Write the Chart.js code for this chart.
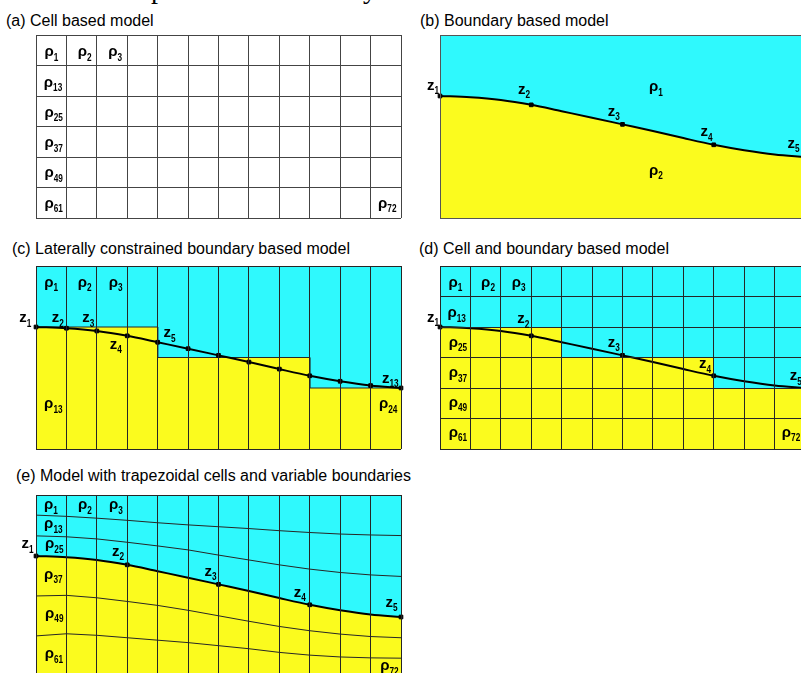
<!DOCTYPE html>
<html>
<head>
<meta charset="utf-8">
<script src="https://cdn.jsdelivr.net/npm/chart.js@4.4.1/dist/chart.umd.min.js"></script>
<style>
body { margin: 0; width: 801px; height: 673px; overflow: hidden; background: #fff; position: relative; font-family: "Liberation Sans", Arial, sans-serif; }
.t { position: absolute; font-size: 16px; line-height: 16px; white-space: nowrap; color: #000; }
.cap { position: absolute; font-family: "Liberation Serif", "Times New Roman", serif; font-size: 28px; line-height: 28px; color: #000; }
canvas { position: absolute; }
</style>
</head>
<body>
<div class="cap" style="left:151px;top:-25px">p</div>
<div class="cap" style="left:363px;top:-25px">y</div>

<div class="t" style="left:6px;top:13px">(a) Cell based model</div>
<div class="t" style="left:420px;top:13px">(b) Boundary based model</div>
<div class="t" style="left:12px;top:241px">(c) Laterally constrained boundary based model</div>
<div class="t" style="left:419px;top:241px">(d) Cell and boundary based model</div>
<div class="t" style="left:16px;top:468px">(e) Model with trapezoidal cells and variable boundaries</div>

<canvas id="pa" width="411" height="203" style="left:0;top:25px"></canvas>
<canvas id="pb" width="415" height="203" style="left:400px;top:25px"></canvas>
<canvas id="pc" width="411" height="203" style="left:0;top:256px"></canvas>
<canvas id="pd" width="415" height="203" style="left:400px;top:256px"></canvas>
<canvas id="pe" width="411" height="203" style="left:0;top:485px"></canvas>

<script>
// model grid: 12 columns x 6 rows, depth in row units (0 = top)
const nCols = 12;
const nRows = 6;

// interface depth at each column edge (0..12) (c) and (e)
const boundaryDepth = [2.00, 2.04, 2.13, 2.29, 2.50, 2.71, 2.93, 3.15, 3.38, 3.60, 3.78, 3.92, 4.00];
// column edges carrying the nodes z1..z5 in (b), (d), (e)
const zNodes = [0, 3, 6, 9, 12];
// first yellow row in each column for the stepped models (c) and (d)
const stepTopRow = [2, 2, 2, 2, 3, 3, 3, 3, 3, 4, 4, 4];

// trapezoidal cell boundaries of panel (e), depth at each column edge
const trapLine1 = [0.66, 0.70, 0.76, 0.83, 0.91, 0.98, 1.04, 1.10, 1.17, 1.23, 1.28, 1.31, 1.33];
const trapLine2 = [1.34, 1.37, 1.44, 1.55, 1.67, 1.80, 1.97, 2.13, 2.29, 2.43, 2.54, 2.62, 2.67];
const trapLine3 = [3.31, 3.29, 3.37, 3.49, 3.62, 3.78, 3.96, 4.14, 4.31, 4.45, 4.56, 4.64, 4.68];
const trapLine4 = [4.62, 4.55, 4.60, 4.68, 4.76, 4.84, 4.94, 5.04, 5.16, 5.25, 5.31, 5.34, 5.35];

// labels: [symbol, subscript, x, baseline depth]
const labelsA = [['ρ','1',0.51,0.69],['ρ','2',1.60,0.69],['ρ','3',2.60,0.69],['ρ','13',0.56,1.69],['ρ','25',0.58,2.68],
  ['ρ','37',0.58,3.68],['ρ','49',0.58,4.67],['ρ','61',0.58,5.66],['ρ','72',11.55,5.66]];
const labelsB = [['ρ','1',7.10,1.84],['ρ','2',7.10,4.58],['z','1',-0.23,1.79],['z','2',2.76,1.93],['z','3',5.71,2.64],
  ['z','4',8.76,3.32],['z','5',11.62,3.70]];
const labelsC = [['ρ','1',0.50,0.68],['ρ','2',1.60,0.68],['ρ','3',2.62,0.68],['ρ','13',0.57,4.67],['ρ','24',11.58,4.67],
  ['z','1',-0.35,1.85],['z','2',0.72,1.85],['z','3',1.72,1.85],['z','4',2.62,2.72],['z','5',4.39,2.34],['z','13',11.65,3.83]];
const labelsD = [['ρ','1',0.51,0.68],['ρ','2',1.58,0.68],['ρ','3',2.59,0.68],['ρ','13',0.55,1.68],['ρ','25',0.59,2.65],
  ['ρ','37',0.59,3.64],['ρ','49',0.59,4.62],['ρ','61',0.59,5.60],['ρ','72',11.54,5.60],
  ['z','1',-0.23,1.83],['z','2',2.74,1.88],['z','3',5.71,2.65],['z','4',8.71,3.35],['z','5',11.70,3.74]];
const labelsE = [['ρ','1',0.49,0.46],['ρ','2',1.61,0.47],['ρ','3',2.63,0.47],['ρ','13',0.57,1.09],['ρ','25',0.60,1.75],
  ['ρ','37',0.57,2.74],['ρ','49',0.60,4.03],['ρ','61',0.59,5.36],['ρ','72',11.62,5.75],
  ['z','1',-0.28,1.75],['z','2',2.70,1.99],['z','3',5.74,2.65],['z','4',8.67,3.34],['z','5',11.69,3.67]];

const CYAN = '#2ff9fd';
const YELLOW = '#fbfb1e';
const LINE = '#262626';
const MAIN_FONT = 'bold 15px "Liberation Sans", Arial, sans-serif';
const SUB_FONT = 'bold 11px "Liberation Sans", Arial, sans-serif';
const SUB_SQUEEZE = 0.75;

function toPoints(arr) {
	return arr.map(function(v, i) { return {x: i, y: v}; });
}

function stepPoints(rows) {
	let pts = [];
	rows.forEach(function(r, i) {
		pts.push({x: i, y: r});
		pts.push({x: i + 1, y: r});
	});
	return pts;
}

function nodeRadius(nodes) {
	return boundaryDepth.map(function(v, i) { return nodes.indexOf(i) >= 0 ? 2.6 : 0; });
}

function labelPlugin(items) {
	return {
		id: 'modelLabels',
		afterDraw: function(chart) {
			const ctx = chart.ctx;
			const sx = chart.scales.x;
			const sy = chart.scales.y;
			ctx.save();
			ctx.fillStyle = '#000';
			ctx.textBaseline = 'alphabetic';
			items.forEach(function(l) {
				ctx.font = MAIN_FONT;
				const w1 = ctx.measureText(l[0]).width;
				ctx.font = SUB_FONT;
				const w2 = ctx.measureText(l[1]).width * SUB_SQUEEZE;
				const px = sx.getPixelForValue(l[2]) - (w1 + w2) / 2;
				const py = sy.getPixelForValue(l[3]);
				ctx.font = MAIN_FONT;
				ctx.fillText(l[0], px, py);
				// narrow subscript digits, like the bitmap font of the original
				ctx.save();
				ctx.translate(px + w1, py + 4.5);
				ctx.scale(SUB_SQUEEZE, 1);
				ctx.font = SUB_FONT;
				ctx.fillText(l[1], 0, 0);
				ctx.restore();
			});
			ctx.restore();
		}
	};
}

function axis(max, step, color, horizontal) {
	return {
		type: 'linear',
		min: 0,
		max: max,
		reverse: !horizontal,
		ticks: {display: false, stepSize: step},
		grid: {color: color, lineWidth: 1, drawTicks: false, z: 1},
		border: {display: false},
		afterFit: function(scale) {
			if (horizontal) {
				scale.height = 0;
			} else {
				scale.width = 0;
			}
		}
	};
}

function makePanel(id, datasets, xStep, yStep, gridColor, labels, padLeft) {
	return new Chart(document.getElementById(id), {
		type: 'line',
		data: {datasets: datasets},
		options: {
			responsive: false,
			animation: false,
			events: [],
			layout: {padding: {left: padLeft, top: 10, right: 10, bottom: 10}},
			plugins: {legend: {display: false}, tooltip: {enabled: false}},
			elements: {point: {radius: 0}, line: {tension: 0}},
			scales: {
				x: axis(nCols, xStep, gridColor, true),
				y: axis(nRows, yStep, gridColor, false)
			}
		},
		plugins: [labelPlugin(labels)]
	});
}

function curveSet(nodes) {
	return {
		data: toPoints(boundaryDepth),
		borderColor: '#000',
		borderWidth: 2,
		cubicInterpolationMode: 'monotone',
		pointStyle: 'rect',
		pointRadius: nodeRadius(nodes),
		pointBackgroundColor: '#000',
		pointBorderColor: '#000',
		pointBorderWidth: 1,
		fill: false,
		clip: false
	};
}

function fillSet(points, target, color, smooth, edge) {
	return {
		data: points,
		borderColor: edge ? LINE : 'rgba(0,0,0,0)',
		borderWidth: edge ? 1 : 0,
		backgroundColor: color,
		cubicInterpolationMode: smooth ? 'monotone' : 'default',
		pointRadius: 0,
		fill: {value: target}
	};
}

function trapSet(arr) {
	return {
		data: toPoints(arr),
		borderColor: LINE,
		borderWidth: 1,
		pointRadius: 0,
		fill: false
	};
}

// (a) cell based model
makePanel('pa', [], 1, 1, '#444', labelsA, 36);

// (b) boundary based model
makePanel('pb', [
	curveSet(zNodes),
	fillSet(toPoints(boundaryDepth), nRows, YELLOW, true, false),
	fillSet(toPoints(boundaryDepth), 0, CYAN, true, false)
], 12, 6, '#555', labelsB, 40);

// (c) laterally constrained boundary based model
makePanel('pc', [
	curveSet(boundaryDepth.map(function(v, i) { return i; })),
	fillSet(stepPoints(stepTopRow), nRows, YELLOW, false, true),
	fillSet(stepPoints(stepTopRow), 0, CYAN, false, false)
], 1, 6, LINE, labelsC, 36);

// (d) cell and boundary based model
makePanel('pd', [
	curveSet(zNodes),
	fillSet(stepPoints(stepTopRow), nRows, YELLOW, false, false),
	fillSet(stepPoints(stepTopRow), 0, CYAN, false, false)
], 1, 1, LINE, labelsD, 40);

// (e) trapezoidal cells with variable boundaries
makePanel('pe', [
	curveSet(zNodes),
	trapSet(trapLine1),
	trapSet(trapLine2),
	trapSet(trapLine3),
	trapSet(trapLine4),
	fillSet(toPoints(boundaryDepth), nRows, YELLOW, true, false),
	fillSet(toPoints(boundaryDepth), 0, CYAN, true, false)
], 1, 6, LINE, labelsE, 36);
</script>
</body>
</html>
